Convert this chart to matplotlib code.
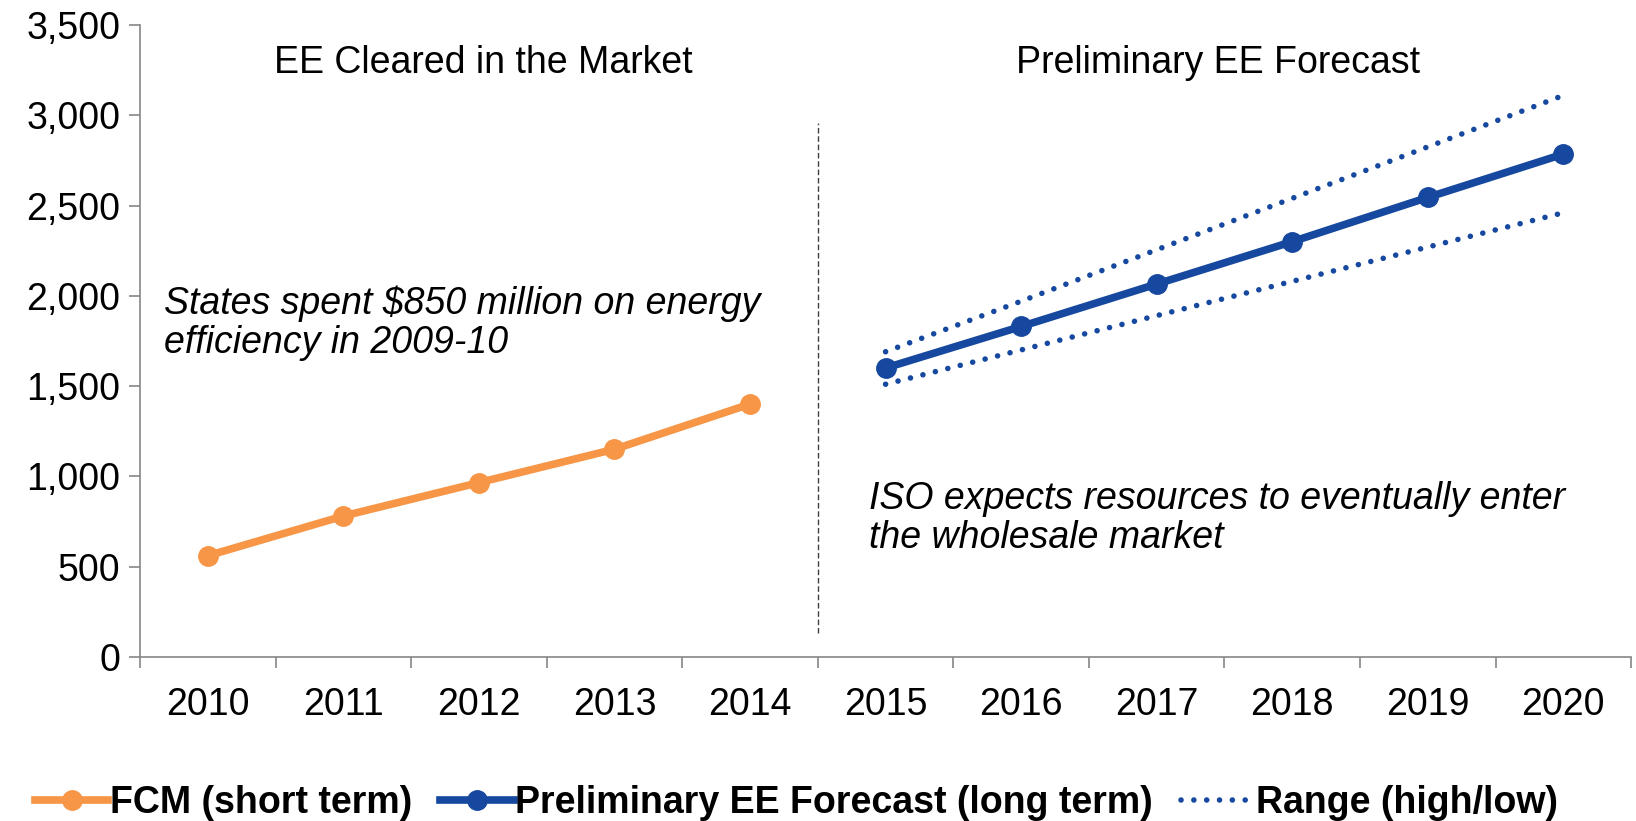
import numpy as np
import matplotlib
matplotlib.use('Agg')
import matplotlib.pyplot as plt

plt.rcParams['font.family'] = ['Liberation Sans', 'DejaVu Sans']

years = ['2010', '2011', '2012', '2013', '2014', '2015', '2016', '2017', '2018', '2019', '2020']
fcm = [560, 780, 965, 1150, 1400]
forecast = [1600, 1830, 2065, 2300, 2545, 2785]
range_high = [1690, 1970, 2255, 2540, 2825, 3110]
range_low = [1510, 1700, 1890, 2080, 2270, 2460]

orange = '#F79646'
blue = '#15489E'
grey = '#868686'

fig = plt.figure(figsize=(16.36, 8.21), dpi=100)
ax = fig.add_axes([0.0856, 0.2, 0.9114, 0.7695])

x_fcm = np.arange(len(fcm))
x_fc = np.arange(len(fcm), len(years))

dots = (0, (0.01, 2.3))
ax.plot(x_fcm, fcm, color=orange, lw=5.5, marker='o', ms=14, label='FCM (short term)')
ax.plot(x_fc, forecast, color=blue, lw=5.5, marker='o', ms=14,
        label='Preliminary EE Forecast (long term)')
ax.plot(x_fc, range_high, color=blue, lw=4, ls=dots, dash_capstyle='round',
        label='Range (high/low)')
ax.plot(x_fc, range_low, color=blue, lw=4, ls=dots, dash_capstyle='round')

# separator
ax.plot([4.5, 4.5], [130, 2960], color='#404040', lw=1, ls=(0, (4, 2)))

fs = 27
ax.text(2.03, 3290, 'EE Cleared in the Market', fontsize=fs, ha='center', va='center')
ax.text(7.45, 3290, 'Preliminary EE Forecast', fontsize=fs, ha='center', va='center')
ax.text(-0.32, 1850, 'States spent $850 million on energy\nefficiency in 2009-10',
        fontsize=fs, style='italic', ha='left', va='center', linespacing=1.1)
ax.text(4.88, 765, 'ISO expects resources to eventually enter\nthe wholesale market',
        fontsize=fs, style='italic', ha='left', va='center', linespacing=1.1)

ax.set_xlim(-0.5, 10.5)
ax.set_ylim(0, 3500)
ax.set_yticks(np.arange(0, 3501, 500))
ax.set_yticklabels(['{:,}'.format(v) for v in range(0, 3501, 500)])
ax.set_xticks(np.arange(len(years)))
ax.set_xticklabels(years)
ax.set_xticks(np.arange(-0.5, len(years), 1), minor=True)
ax.tick_params(axis='x', which='major', length=0, pad=22, labelsize=fs)
ax.tick_params(axis='x', which='minor', length=8, width=1.2, color=grey)
ax.tick_params(axis='y', length=8, width=1.2, color=grey, labelsize=fs, pad=6)

for s in ['top', 'right']:
    ax.spines[s].set_visible(False)
for s in ['left', 'bottom']:
    ax.spines[s].set_color(grey)
    ax.spines[s].set_linewidth(1.2)

leg = fig.legend(loc='center', bbox_to_anchor=(0.487, 0.022), ncol=3, frameon=False,
                 prop={'size': 27, 'weight': 'bold'}, handlelength=1.95, handletextpad=0.05,
                 columnspacing=0.75)

fig.savefig('out.png', dpi=100)
